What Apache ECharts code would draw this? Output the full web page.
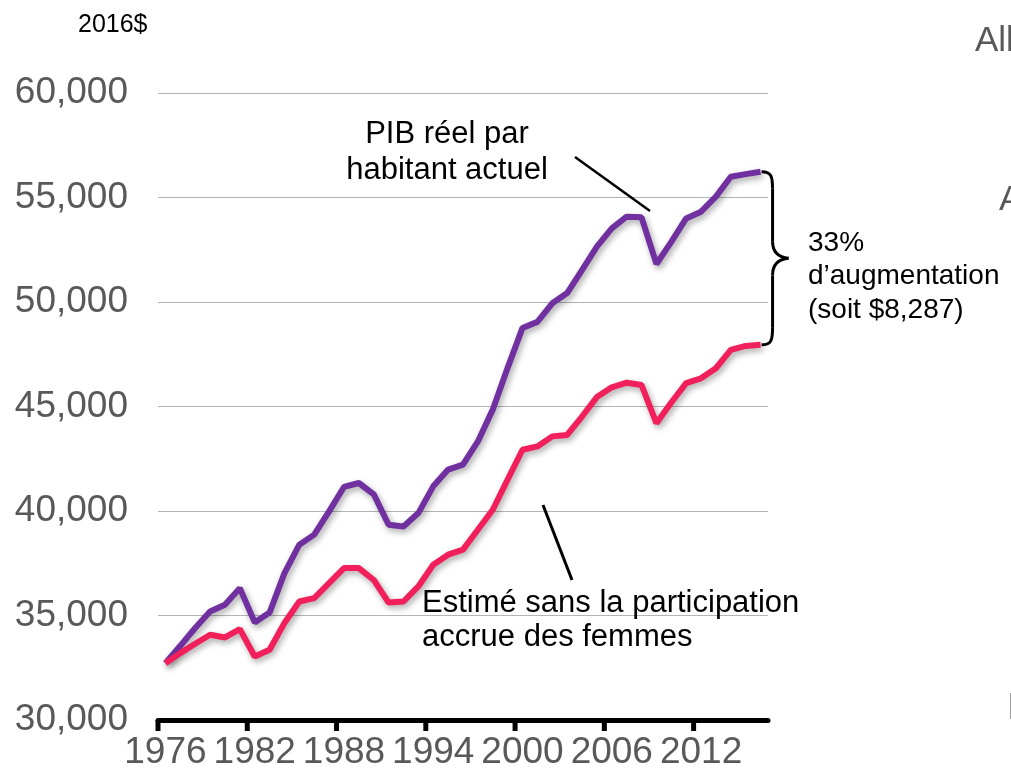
<!DOCTYPE html>
<html>
<head>
<meta charset="utf-8">
<script src="https://cdn.jsdelivr.net/npm/echarts@6/dist/echarts.min.js"></script>
<style>
    html, body { margin: 0; padding: 0; background: #fff; }
    #chart { width: 1011px; height: 780px; }
</style>
</head>
<body>
<div id="chart"></div>
<script>
// données (2016$)
const years = ['1976', '1977', '1978', '1979', '1980', '1981', '1982', '1983', '1984', '1985',
    '1986', '1987', '1988', '1989', '1990', '1991', '1992', '1993', '1994', '1995',
    '1996', '1997', '1998', '1999', '2000', '2001', '2002', '2003', '2004', '2005',
    '2006', '2007', '2008', '2009', '2010', '2011', '2012', '2013', '2014', '2015', '2016'];

const actualGdp = [32720, 33550, 34400, 35190, 35510, 36310, 34670, 35140, 37030, 38390,
    38870, 39980, 41150, 41340, 40800, 39340, 39260, 39900, 41180, 41980,
    42220, 43330, 44850, 46850, 48760, 49050, 49940, 50430, 51530, 52650,
    53520, 54080, 54050, 51820, 52880, 54000, 54320, 55040, 55990, 56120, 56230];

const estimatedGdp = [32720, 33200, 33650, 34080, 33950, 34350, 33040, 33360, 34640, 35670,
    35830, 36550, 37270, 37270, 36700, 35620, 35670, 36390, 37430, 37910,
    38150, 39100, 40060, 41500, 42930, 43090, 43570, 43640, 44520, 45450,
    45920, 46140, 46030, 44200, 45190, 46120, 46350, 46830, 47710, 47900, 47950];

const yMin = 30000;
const yMax = 60000;
const yStep = 5000;
const labelEvery = 6;

const FONT = '"Liberation Sans", Arial, sans-serif';
const GREY = '#595959';

const chart = echarts.init(document.getElementById('chart'));

function withCommas(v) {
    return String(v).replace(/\B(?=(\d{3})+(?!\d))/g, ',');
}

const lineShadow = {
    shadowColor: 'rgba(0,0,0,0.35)',
    shadowBlur: 6,
    shadowOffsetX: 2,
    shadowOffsetY: 3
};

const option = {
    animation: false,
    grid: {
        left: 158,
        right: 243,
        top: 93,
        bottom: 60,
        outerBoundsMode: 'none'
    },
    xAxis: {
        type: 'category',
        data: years,
        boundaryGap: true,
        axisLine: { show: true, lineStyle: { color: '#000', width: 5 } },
        axisTick: { show: false },
        axisLabel: {
            interval: labelEvery - 1,
            color: GREY,
            fontSize: 37,
            lineHeight: 37,
            fontFamily: FONT,
            margin: 14
        }
    },
    yAxis: {
        type: 'value',
        min: yMin,
        max: yMax,
        interval: yStep,
        axisLine: { show: false },
        axisTick: { show: false },
        axisLabel: {
            color: GREY,
            fontSize: 37,
            fontFamily: FONT,
            margin: 30,
            formatter: withCommas
        },
        splitLine: { lineStyle: { color: '#b4b4b4', width: 1 } }
    },
    series: [
        {
            name: 'PIB réel par habitant actuel',
            type: 'line',
            data: actualGdp,
            symbol: 'none',
            lineStyle: Object.assign({ color: '#7030A0', width: 6 }, lineShadow)
        },
        {
            name: 'Estimé sans la participation accrue des femmes',
            type: 'line',
            data: estimatedGdp,
            symbol: 'none',
            lineStyle: Object.assign({ color: '#F2205A', width: 6 }, lineShadow)
        }
    ]
};

chart.setOption(option);

// annotations
const lastIdx = years.length - 1;
const pHigh = chart.convertToPixel({ gridIndex: 0 }, [lastIdx, actualGdp[lastIdx]]);
const pLow = chart.convertToPixel({ gridIndex: 0 }, [lastIdx, estimatedGdp[lastIdx]]);
const bx = pHigh[0] + 1;
const yHigh = pHigh[1];
const yLow = pLow[1];
const yMid = (yHigh + yLow) / 2;
const braceStyle = { fill: 'none', stroke: '#000', lineWidth: 3 };

function curve(x1, y1, c1x, c1y, c2x, c2y, x2, y2) {
    return {
        type: 'bezierCurve',
        z: 100,
        shape: { x1: x1, y1: y1, cpx1: c1x, cpy1: c1y, cpx2: c2x, cpy2: c2y, x2: x2, y2: y2 },
        style: braceStyle
    };
}

function seg(x1, y1, x2, y2, w) {
    return {
        type: 'line',
        z: 100,
        shape: { x1: x1, y1: y1, x2: x2, y2: y2 },
        style: { stroke: '#000', lineWidth: w }
    };
}

function label(x, y, text, size, color, align) {
    return {
        type: 'text',
        x: x,
        y: y,
        z: 100,
        style: {
            text: text,
            fill: color || '#000',
            fontSize: size,
            fontFamily: FONT,
            align: align || 'left',
            verticalAlign: 'middle'
        }
    };
}

// graduations de l'axe X entre les catégories (une toutes les 6 années, pas de trait final)
const p0 = chart.convertToPixel({ gridIndex: 0 }, [0, yMin]);
const p1 = chart.convertToPixel({ gridIndex: 0 }, [1, yMin]);
const band = p1[0] - p0[0];
const ticks = [];
for (let i = 0; i < years.length; i += labelEvery) {
    const tx = chart.convertToPixel({ gridIndex: 0 }, [i, yMin])[0] - band / 2;
    ticks.push(seg(tx, p0[1], tx, p0[1] + 11, 5));
}

const bv = bx + 11;

chart.setOption({
    graphic: ticks.concat([
        label(78, 25, '2016$', 25),
        label(447, 134, 'PIB réel par', 31, '#000', 'center'),
        label(447, 170, 'habitant actuel', 31, '#000', 'center'),
        label(422, 603, 'Estimé sans la participation', 31),
        label(422, 637, 'accrue des femmes', 31),
        label(808, 243, '33%', 28),
        label(808, 276, 'd\u2019augmentation', 28),
        label(808, 310, '(soit $8,287)', 28),
        label(975, 41, 'All', 35, GREY),
        label(999, 200, 'A', 35, GREY),
        label(1007, 709, 'I', 37, GREY),
        seg(575, 157, 650, 211, 2.5),
        seg(543, 505, 572, 580, 3),
        // accolade
        curve(bx, yHigh, bx + 10, yHigh, bv, yHigh + 5, bv, yHigh + 17),
        seg(bv, yHigh + 17, bv, yMid - 17, 3),
        curve(bv, yMid - 17, bv, yMid - 7, bx + 16, yMid - 1, bx + 27, yMid),
        curve(bx + 27, yMid, bx + 16, yMid + 1, bv, yMid + 7, bv, yMid + 17),
        seg(bv, yMid + 17, bv, yLow - 17, 3),
        curve(bv, yLow - 17, bv, yLow - 5, bx + 10, yLow, bx, yLow)
    ])
});
</script>
</body>
</html>
